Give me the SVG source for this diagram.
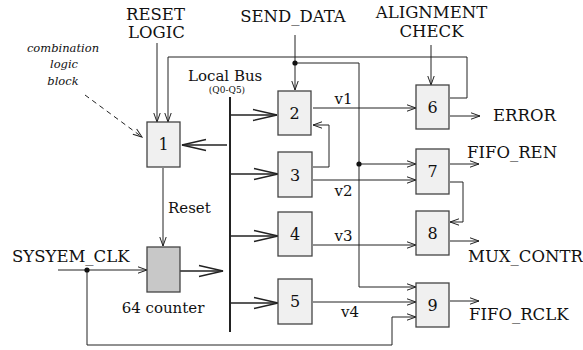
<svg xmlns="http://www.w3.org/2000/svg" width="583" height="350" viewBox="0 0 583 350">
<style>
text{font-family:"DejaVu Serif","Liberation Serif",serif;fill:#111}
.t{font-size:16.5px}
.m{font-size:15px}
.n{font-size:16px;text-anchor:middle}
.it{font-size:11.5px;font-style:italic;text-anchor:middle}
.box{fill:#f0f0f0;stroke:#444;stroke-width:1.3}
.cnt{fill:#c8c8c8;stroke:#444;stroke-width:1.3}
.c{fill:none;stroke:#222;stroke-width:1}
.bus{fill:none;stroke:#222;stroke-width:2}
.big{fill:none;stroke:#222;stroke-width:1.3}
</style>
<defs>
<marker id="a" viewBox="-11 -5 12 10" refX="0" refY="0" markerWidth="12" markerHeight="10" markerUnits="userSpaceOnUse" orient="auto"><path d="M-9,-3.2 L0,0 L-9,3.2" fill="none" stroke="#222" stroke-width="1"/></marker>
<marker id="b" viewBox="-27 -8 28 16" refX="0" refY="0" markerWidth="28" markerHeight="16" markerUnits="userSpaceOnUse" orient="auto"><path d="M-24,-5.5 L0,0 L-24,5.5" fill="none" stroke="#222" stroke-width="1.3"/></marker>
</defs>
<g id="labels">
<text class="t" x="155.5" y="20" text-anchor="middle">RESET</text>
<text class="t" x="156.5" y="38" text-anchor="middle">LOGIC</text>
<text class="t" x="293" y="22" text-anchor="middle">SEND_DATA</text>
<text class="t" x="431.5" y="18" text-anchor="middle">ALIGNMENT</text>
<text class="t" x="431.5" y="37" text-anchor="middle">CHECK</text>
<text class="t" x="493" y="121">ERROR</text>
<text class="t" x="467" y="158">FIFO_REN</text>
<text class="t" x="468" y="262">MUX_CONTR</text>
<text class="t" x="469" y="320">FIFO_RCLK</text>
<text class="t" x="12" y="262">SYSYEM_CLK</text>
<text class="m" x="163" y="313" text-anchor="middle">64 counter</text>
<text class="m" x="168" y="213">Reset</text>
<text class="m" x="188" y="81">Local Bus</text>
<text x="227" y="93" text-anchor="middle" style="font-size:9px">(Q0-Q5)</text>
<text class="m" x="343.5" y="104" text-anchor="middle">v1</text>
<text class="m" x="343.5" y="196" text-anchor="middle">v2</text>
<text class="m" x="343.5" y="241" text-anchor="middle">v3</text>
<text class="m" x="350" y="317" text-anchor="middle">v4</text>
<text class="it" x="63" y="52">combination</text>
<text class="it" x="64" y="68">logic</text>
<text class="it" x="63" y="85">block</text>
</g>
<g id="connectors">
<line class="bus" x1="230" y1="97" x2="230" y2="332"/>
<line class="big" x1="230" y1="115" x2="277" y2="115" marker-end="url(#b)"/>
<line class="big" x1="230" y1="174" x2="278" y2="174" marker-end="url(#b)"/>
<line class="big" x1="230" y1="236" x2="278" y2="236" marker-end="url(#b)"/>
<line class="big" x1="230" y1="303" x2="278" y2="303" marker-end="url(#b)"/>
<line class="big" x1="227" y1="145" x2="182" y2="145" marker-end="url(#b)"/>
<line class="big" x1="180" y1="271" x2="223" y2="271" marker-end="url(#b)"/>
<line class="c" x1="85" y1="95" x2="142" y2="137" stroke-dasharray="5,4" marker-end="url(#a)"/>
<line class="c" x1="157" y1="43" x2="157" y2="122" marker-end="url(#a)"/>
<polyline class="c" points="450,98 467,98 467,57 168,57 168,122" marker-end="url(#a)"/>
<line class="c" x1="163" y1="168" x2="163" y2="246" marker-end="url(#a)"/>
<line class="c" x1="58" y1="270" x2="147" y2="270" marker-end="url(#a)"/>
<polyline class="c" points="87,270 87,345 392,345 392,317 416,317" marker-end="url(#a)"/>
<line class="c" x1="295" y1="35" x2="295" y2="90" marker-end="url(#a)"/>
<polyline class="c" points="295,63 359,63 359,287 416,287" marker-end="url(#a)"/>
<line class="c" x1="359" y1="164" x2="416" y2="164" marker-end="url(#a)"/>
<line class="c" x1="431" y1="45" x2="431" y2="85" marker-end="url(#a)"/>
<line class="c" x1="313" y1="108" x2="416" y2="108" marker-end="url(#a)"/>
<polyline class="c" points="313,167 329,167 329,125 313,125" marker-end="url(#a)"/>
<line class="c" x1="313" y1="180" x2="416" y2="180" marker-end="url(#a)"/>
<line class="c" x1="313" y1="245" x2="416" y2="245" marker-end="url(#a)"/>
<line class="c" x1="313" y1="302" x2="416" y2="302" marker-end="url(#a)"/>
<line class="c" x1="450" y1="116" x2="480" y2="116" marker-end="url(#a)"/>
<line class="c" x1="450" y1="164" x2="479" y2="164" marker-end="url(#a)"/>
<polyline class="c" points="450,182 463,182 463,222 450,222" marker-end="url(#a)"/>
<line class="c" x1="450" y1="241" x2="479" y2="241" marker-end="url(#a)"/>
<line class="c" x1="450" y1="301" x2="479" y2="301" marker-end="url(#a)"/>
<circle cx="295" cy="63" r="2.6" fill="#111"/>
<circle cx="359" cy="164" r="2.6" fill="#111"/>
<circle cx="87" cy="270" r="2.6" fill="#111"/>
</g>
<g id="node1"><rect class="box" x="147" y="122" width="33" height="45"/><text class="n" x="163.5" y="150">1</text></g>
<g id="counter"><rect class="cnt" x="147" y="247" width="33" height="45"/></g>
<g id="node2"><rect class="box" x="278" y="91" width="33" height="44"/><text class="n" x="294.5" y="119">2</text></g>
<g id="node3"><rect class="box" x="278" y="152" width="34" height="45"/><text class="n" x="295" y="181">3</text></g>
<g id="node4"><rect class="box" x="278" y="212" width="34" height="44"/><text class="n" x="295" y="240">4</text></g>
<g id="node5"><rect class="box" x="278" y="279" width="34" height="45"/><text class="n" x="295" y="307">5</text></g>
<g id="node6"><rect class="box" x="416" y="85" width="33" height="44"/><text class="n" x="432.5" y="113">6</text></g>
<g id="node7"><rect class="box" x="416" y="149" width="33" height="45"/><text class="n" x="432.5" y="177">7</text></g>
<g id="node8"><rect class="box" x="416" y="211" width="33" height="44"/><text class="n" x="432.5" y="239">8</text></g>
<g id="node9"><rect class="box" x="416" y="283" width="33" height="44"/><text class="n" x="432.5" y="311">9</text></g>
</svg>
